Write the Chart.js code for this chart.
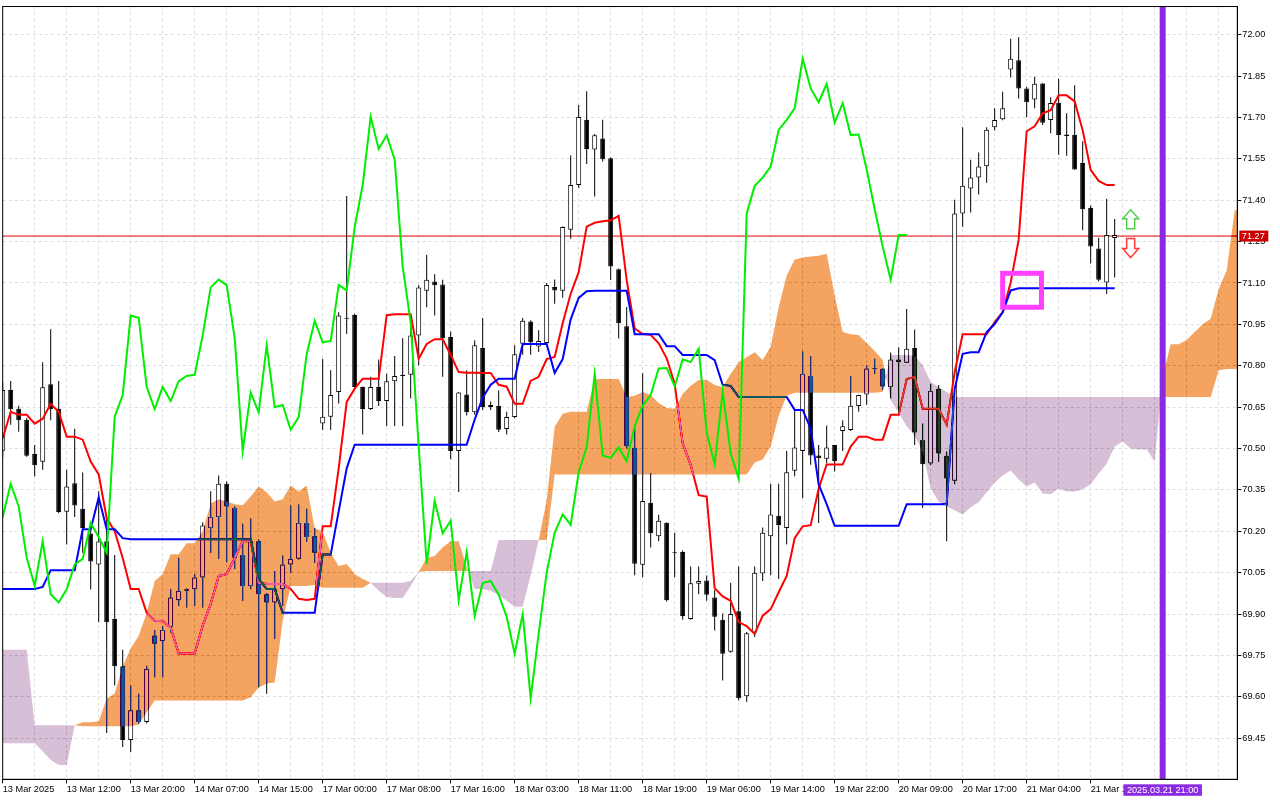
<!DOCTYPE html>
<html>
<head>
<meta charset="utf-8">
<title>Ichimoku H1</title>
<script src="https://cdn.jsdelivr.net/npm/chart.js@4.4.1/dist/chart.umd.min.js"></script>
<style>
  html, body { margin: 0; padding: 0; background: #ffffff; }
  #wrap { width: 1280px; height: 800px; position: relative; }
</style>
</head>
<body>
<div id="wrap"><canvas id="ichimoku-chart"></canvas></div>
<script>
// H1 candles, one value per bar (bar 0 = 13 Mar 2025 04:00)
const opens = [
  70.492, 70.712, 70.644, 70.604, 70.480, 70.452, 70.733, 70.644, 70.271, 70.374,
  70.282, 70.192, 70.080, 70.164, 69.882, 69.711, 69.443, 69.551, 69.509, 69.822,
  69.801, 69.852, 69.950, 69.984, 69.990, 70.032, 70.212, 70.252, 70.372, 70.284,
  70.114, 70.002, 70.164, 69.972, 69.942, 69.990, 70.080, 70.100, 70.230, 70.182,
  70.591, 70.615, 70.705, 70.970, 70.984, 70.723, 70.643, 70.723, 70.672, 70.744,
  70.763, 70.767, 70.910, 71.072, 71.105, 71.094, 70.904, 70.491, 70.696, 70.631,
  70.864, 70.650, 70.654, 70.571, 70.614, 70.880, 70.960, 70.870, 70.882, 71.085,
  71.072, 71.293, 71.455, 71.692, 71.584, 71.624, 71.552, 71.150, 70.943, 70.503,
  70.079, 70.303, 70.182, 70.231, 70.120, 70.125, 69.882, 70.010, 70.022, 69.960,
  69.879, 69.763, 69.910, 69.602, 69.833, 70.047, 70.182, 70.256, 70.212, 70.419,
  70.491, 70.763, 70.475, 70.463, 70.513, 70.563, 70.567, 70.654, 70.696, 70.789,
  70.789, 70.723, 70.823, 70.811, 70.864, 70.531, 70.446, 70.717, 70.474, 70.383,
  71.352, 71.442, 71.482, 71.523, 71.664, 71.693, 71.874, 71.907, 71.805, 71.765,
  71.823, 71.691, 71.753, 71.633, 71.637, 71.535, 71.373, 71.225, 71.102, 71.263
];
const highs = [
  70.740, 70.745, 70.655, 70.610, 70.513, 70.813, 70.932, 70.745, 70.423, 70.572,
  70.413, 70.233, 70.345, 70.254, 70.114, 69.771, 69.641, 69.611, 69.713, 69.842,
  69.857, 69.990, 70.104, 69.993, 70.044, 70.233, 70.345, 70.402, 70.380, 70.290,
  70.227, 70.246, 70.170, 69.975, 70.056, 70.112, 70.293, 70.297, 70.282, 70.212,
  70.825, 70.784, 70.994, 71.415, 70.988, 70.725, 70.760, 70.823, 70.771, 70.835,
  70.900, 70.940, 71.092, 71.202, 71.132, 71.112, 70.924, 70.705, 70.784, 70.892,
  70.973, 70.670, 70.710, 70.633, 70.874, 70.973, 70.965, 70.929, 71.100, 71.113,
  71.305, 71.562, 71.745, 71.795, 71.640, 71.692, 71.555, 71.152, 71.013, 70.573,
  70.773, 70.411, 70.260, 70.233, 70.195, 70.130, 70.072, 70.072, 70.040, 69.987,
  69.902, 70.013, 70.072, 69.835, 70.072, 70.214, 70.372, 70.372, 70.491, 70.639,
  70.852, 70.835, 70.513, 70.583, 70.513, 70.602, 70.763, 70.695, 70.801, 70.825,
  70.790, 70.848, 70.867, 71.006, 70.931, 70.591, 70.735, 70.730, 70.489, 71.402,
  71.664, 71.547, 71.573, 71.664, 71.733, 71.793, 71.985, 71.991, 71.810, 71.847,
  71.825, 71.773, 71.840, 71.715, 71.817, 71.614, 71.381, 71.264, 71.405, 71.332
];
const lows = [
  70.470, 70.586, 70.561, 70.470, 70.399, 70.423, 70.602, 70.265, 70.152, 70.252,
  70.122, 69.989, 69.870, 69.469, 69.641, 69.418, 69.400, 69.503, 69.503, 69.671,
  69.671, 69.833, 69.930, 69.924, 69.930, 69.924, 70.122, 70.100, 70.088, 70.063,
  69.948, 69.990, 69.635, 69.611, 69.810, 69.930, 70.050, 70.098, 70.162, 70.086,
  70.567, 70.567, 70.663, 70.915, 70.720, 70.551, 70.640, 70.654, 70.582, 70.582,
  70.581, 70.681, 70.802, 71.012, 70.982, 70.760, 70.461, 70.342, 70.620, 70.622,
  70.640, 70.640, 70.560, 70.551, 70.610, 70.840, 70.840, 70.850, 70.870, 71.025,
  71.046, 71.260, 71.445, 71.531, 71.413, 71.540, 71.111, 70.899, 70.500, 70.041,
  70.033, 70.141, 70.164, 69.945, 70.033, 69.879, 69.879, 69.972, 69.948, 69.840,
  69.659, 69.760, 69.587, 69.582, 69.817, 70.020, 70.041, 70.027, 70.152, 70.399,
  70.320, 70.441, 70.230, 70.447, 70.417, 70.491, 70.563, 70.633, 70.659, 70.771,
  70.712, 70.681, 70.620, 70.811, 70.513, 70.284, 70.440, 70.452, 70.164, 70.370,
  71.304, 71.355, 71.421, 71.463, 71.653, 71.690, 71.845, 71.769, 71.701, 71.733,
  71.673, 71.643, 71.565, 71.561, 71.510, 71.291, 71.171, 71.105, 71.060, 71.120
];
const closes = [
  70.712, 70.642, 70.602, 70.474, 70.439, 70.722, 70.642, 70.270, 70.362, 70.293,
  70.212, 70.090, 70.163, 69.870, 69.711, 69.443, 69.551, 69.509, 69.702, 69.792,
  69.842, 69.960, 69.984, 69.990, 70.032, 70.221, 70.252, 70.372, 70.290, 70.104,
  70.002, 70.164, 69.972, 69.942, 69.990, 70.080, 70.100, 70.230, 70.179, 70.122,
  70.615, 70.694, 70.982, 70.974, 70.723, 70.643, 70.723, 70.672, 70.744, 70.763,
  70.767, 70.910, 71.084, 71.112, 71.092, 70.900, 70.491, 70.703, 70.631, 70.874,
  70.650, 70.658, 70.568, 70.614, 70.842, 70.963, 70.885, 70.890, 71.093, 71.073,
  71.303, 71.455, 71.702, 71.586, 71.635, 71.548, 71.160, 70.955, 70.508, 70.082,
  70.310, 70.193, 70.238, 69.950, 70.124, 69.893, 70.012, 70.020, 69.970, 69.890,
  69.756, 69.900, 69.595, 69.830, 70.050, 70.195, 70.261, 70.223, 70.414, 70.504,
  70.770, 70.475, 70.466, 70.504, 70.454, 70.581, 70.655, 70.694, 70.790, 70.792,
  70.725, 70.823, 70.813, 70.862, 70.558, 70.443, 70.708, 70.482, 70.391, 71.352,
  71.452, 71.482, 71.522, 71.655, 71.691, 71.733, 71.913, 71.805, 71.755, 71.822,
  71.681, 71.752, 71.636, 71.638, 71.511, 71.367, 71.232, 71.112, 71.274, 71.274
];

// Ichimoku lines
const tenkan = [
  70.536, 70.633, 70.622, 70.622, 70.590, 70.608, 70.662, 70.633, 70.543, 70.543,
  70.532, 70.453, 70.406, 70.247, 70.200, 70.103, 69.991, 69.991, 69.904, 69.876,
  69.874, 69.851, 69.757, 69.757, 69.757, 69.858, 69.937, 70.038, 70.045, 70.103,
  70.164, 70.164, 70.013, 70.009, 70.009, 70.009, 69.991, 69.955, 69.951, 69.955,
  70.218, 70.218, 70.428, 70.669, 70.717, 70.753, 70.753, 70.753, 70.983, 70.987,
  70.987, 70.987, 70.825, 70.879, 70.896, 70.896, 70.839, 70.777, 70.775, 70.775,
  70.774, 70.774, 70.731, 70.724, 70.662, 70.662, 70.745, 70.760, 70.824, 70.832,
  70.954, 71.061, 71.139, 71.304, 71.318, 71.324, 71.327, 71.343, 71.110, 70.935,
  70.915, 70.912, 70.881, 70.827, 70.734, 70.519, 70.441, 70.331, 70.326, 69.994,
  69.964, 69.948, 69.871, 69.856, 69.828, 69.894, 69.918, 69.979, 70.038, 70.175,
  70.218, 70.222, 70.355, 70.442, 70.442, 70.442, 70.507, 70.543, 70.543, 70.532,
  70.532, 70.622, 70.622, 70.752, 70.759, 70.644, 70.644, 70.644, 70.586, 70.777,
  70.914, 70.914, 70.914, 70.914, 70.958, 70.994, 71.102, 71.257, 71.650, 71.668,
  71.715, 71.726, 71.780, 71.780, 71.758, 71.654, 71.510, 71.470, 71.455, 71.455
];
const kijun = [
  69.991, 69.991, 69.991, 69.991, 69.991, 69.998, 70.059, 70.059, 70.059, 70.059,
  70.207, 70.207, 70.323, 70.207, 70.207, 70.175, 70.171, 70.171, 70.171, 70.171,
  70.171, 70.171, 70.171, 70.171, 70.171, 70.171, 70.171, 70.171, 70.171, 70.171,
  70.171, 70.171, 70.027, 69.991, 69.991, 69.905, 69.905, 69.905, 69.905, 69.905,
  70.116, 70.116, 70.272, 70.428, 70.514, 70.514, 70.514, 70.514, 70.514, 70.514,
  70.514, 70.514, 70.514, 70.514, 70.514, 70.514, 70.514, 70.514, 70.514, 70.605,
  70.684, 70.731, 70.753, 70.753, 70.753, 70.879, 70.879, 70.879, 70.879, 70.774,
  70.824, 70.968, 71.046, 71.070, 71.072, 71.072, 71.072, 71.072, 71.072, 70.914,
  70.914, 70.914, 70.914, 70.871, 70.871, 70.839, 70.839, 70.839, 70.839, 70.820,
  70.731, 70.727, 70.687, 70.687, 70.687, 70.687, 70.687, 70.687, 70.687, 70.640,
  70.640, 70.572, 70.370, 70.298, 70.220, 70.220, 70.220, 70.220, 70.220, 70.220,
  70.220, 70.220, 70.220, 70.298, 70.298, 70.298, 70.298, 70.298, 70.298, 70.716,
  70.843, 70.849, 70.849, 70.922, 70.951, 70.994, 71.073, 71.081, 71.081, 71.081,
  71.081, 71.081, 71.081, 71.081, 71.081, 71.081, 71.081, 71.081, 71.081, 71.081
];
// cloud edges, already shifted 26 bars forward (runs past the last candle)
const senkouA = [
  69.432, 69.432, 69.432, 69.432, 69.432, 69.403, 69.371, 69.353, 69.353, 69.497,
  69.508, 69.508, 69.511, 69.594, 69.612, 69.710, 69.775, 69.821, 69.904, 70.020,
  70.045, 70.117, 70.117, 70.157, 70.157, 70.200, 70.301, 70.316, 70.308, 70.298,
  70.294, 70.326, 70.362, 70.341, 70.308, 70.316, 70.366, 70.344, 70.366, 70.211,
  70.200, 70.121, 70.074, 70.081, 70.045, 70.027, 70.013, 69.984, 69.962, 69.958,
  69.958, 70.002, 70.052, 70.103, 70.110, 70.142, 70.164, 70.164, 70.070, 69.991,
  69.991, 69.984, 69.969, 69.948, 69.926, 69.926, 70.041, 70.168, 70.312, 70.579,
  70.626, 70.633, 70.633, 70.633, 70.752, 70.752, 70.752, 70.752, 70.687, 70.691,
  70.705, 70.694, 70.665, 70.647, 70.644, 70.698, 70.727, 70.748, 70.748, 70.730,
  70.723, 70.770, 70.813, 70.831, 70.849, 70.821, 70.870, 71.012, 71.127, 71.185,
  71.192, 71.196, 71.199, 71.206, 71.055, 70.922, 70.914, 70.911, 70.882, 70.853,
  70.821, 70.676, 70.629, 70.582, 70.546, 70.489, 70.355, 70.308, 70.290, 70.276,
  70.261, 70.287, 70.305, 70.341, 70.377, 70.402, 70.420, 70.388, 70.362, 70.377,
  70.337, 70.334, 70.355, 70.344, 70.344, 70.352, 70.370, 70.409, 70.445, 70.507,
  70.525, 70.500, 70.496, 70.496, 70.453, 70.759, 70.878, 70.878, 70.893, 70.922,
  70.950, 70.970, 71.077, 71.145, 71.362, 71.372
];
const senkouB = [
  69.771, 69.771, 69.771, 69.771, 69.497, 69.497, 69.497, 69.497, 69.497, 69.497,
  69.493, 69.493, 69.493, 69.493, 69.493, 69.493, 69.493, 69.500, 69.544, 69.587,
  69.587, 69.587, 69.587, 69.587, 69.587, 69.587, 69.587, 69.587, 69.587, 69.587,
  69.587, 69.598, 69.634, 69.648, 69.652, 69.876, 70.002, 70.002, 70.002, 70.005,
  69.995, 69.995, 69.995, 69.995, 69.995, 69.995, 70.013, 70.013, 70.013, 70.013,
  70.013, 70.020, 70.052, 70.056, 70.056, 70.056, 70.056, 70.056, 70.056, 70.056,
  70.056, 70.056, 70.168, 70.168, 70.168, 70.168, 70.168, 70.168, 70.168, 70.406,
  70.406, 70.406, 70.406, 70.406, 70.406, 70.406, 70.406, 70.406, 70.406, 70.406,
  70.406, 70.406, 70.406, 70.406, 70.406, 70.406, 70.406, 70.406, 70.406, 70.406,
  70.406, 70.406, 70.406, 70.406, 70.449, 70.460, 70.507, 70.619, 70.691, 70.702,
  70.702, 70.702, 70.702, 70.702, 70.702, 70.702, 70.702, 70.702, 70.702, 70.702,
  70.705, 70.839, 70.839, 70.839, 70.835, 70.803, 70.741, 70.723, 70.705, 70.687,
  70.687, 70.687, 70.687, 70.687, 70.687, 70.687, 70.687, 70.687, 70.687, 70.687,
  70.687, 70.687, 70.687, 70.687, 70.687, 70.687, 70.687, 70.687, 70.687, 70.687,
  70.687, 70.687, 70.687, 70.687, 70.687, 70.687, 70.687, 70.687, 70.687, 70.687,
  70.687, 70.687, 70.784, 70.788, 70.788, 70.788
];
const chikouShift = 26; // lagging span = close plotted 26 bars back

// axis labels
const timeLabels = [
  '13 Mar 2025', '13 Mar 12:00', '13 Mar 20:00', '14 Mar 07:00', '14 Mar 15:00',
  '17 Mar 00:00', '17 Mar 08:00', '17 Mar 16:00', '18 Mar 03:00', '18 Mar 11:00',
  '18 Mar 19:00', '19 Mar 06:00', '19 Mar 14:00', '19 Mar 22:00', '20 Mar 09:00',
  '20 Mar 17:00', '21 Mar 04:00', '21 Mar 12:00'
];
const priceTicks = [69.45, 69.60, 69.75, 69.90, 70.05, 70.20, 70.35, 70.50, 70.65,
  70.80, 70.95, 71.10, 71.25, 71.40, 71.55, 71.70, 71.85, 72.00];

// chart objects
const bidPrice = 71.27;
const vlineBar = 145;
const vlineLabel = '2025.03.21 21:00';
const boxBars = [125, 129.85];
const boxPrices = [71.135, 71.012];
const arrowBar = 141;
const buyArrowPrice = 71.365;
const sellArrowPrice = 71.192;

// colours
const cloudUp = [244, 164, 96];    // sandybrown
const cloudDown = [216, 191, 216]; // thistle
const FONT = { family: 'Liberation Sans', size: 9.2 };

const inverse = c => 'rgb(' + (255 - c[0]) + ',' + (255 - c[1]) + ',' + (255 - c[2]) + ')';
const pts = arr => arr.map((v, i) => ({ x: i, y: v }));

// cloud drawn like MT4: inverted over whatever is below it
function drawCloud(chart) {
  const a = chart.getDatasetMeta(5).data;
  const b = chart.getDatasetMeta(6).data;
  const bull = new Path2D();
  const bear = new Path2D();
  const poly = (p, list) => {
    p.moveTo(list[0][0], list[0][1]);
    for (let k = 1; k < list.length; k++) p.lineTo(list[k][0], list[k][1]);
    p.closePath();
  };
  for (let i = 0; i < a.length - 1; i++) {
    const d0 = senkouA[i] - senkouB[i];
    const d1 = senkouA[i + 1] - senkouB[i + 1];
    const x0 = a[i].x, x1 = a[i + 1].x;
    if (d0 >= 0 && d1 >= 0) {
      poly(bull, [[x0, a[i].y], [x1, a[i + 1].y], [x1, b[i + 1].y], [x0, b[i].y]]);
    } else if (d0 <= 0 && d1 <= 0) {
      poly(bear, [[x0, a[i].y], [x1, a[i + 1].y], [x1, b[i + 1].y], [x0, b[i].y]]);
    } else {
      const t = d0 / (d0 - d1);
      const xc = x0 + t * (x1 - x0);
      const yc = a[i].y + t * (a[i + 1].y - a[i].y);
      poly(d0 > 0 ? bull : bear, [[x0, a[i].y], [xc, yc], [x0, b[i].y]]);
      poly(d1 > 0 ? bull : bear, [[xc, yc], [x1, a[i + 1].y], [x1, b[i + 1].y]]);
    }
  }
  const ctx = chart.ctx;
  const area = chart.chartArea;
  ctx.save();
  ctx.beginPath();
  ctx.rect(area.left, area.top, area.right - area.left, area.bottom - area.top);
  ctx.clip();
  ctx.globalCompositeOperation = 'difference';
  ctx.fillStyle = inverse(cloudUp);
  ctx.fill(bull);
  ctx.fillStyle = inverse(cloudDown);
  ctx.fill(bear);
  ctx.restore();
}

function drawArrow(ctx, x, tipY, up, color) {
  const s = up ? 1 : -1;
  ctx.beginPath();
  ctx.moveTo(x, tipY);
  ctx.lineTo(x + 8, tipY + s * 9);
  ctx.lineTo(x + 4, tipY + s * 9);
  ctx.lineTo(x + 4, tipY + s * 19);
  ctx.lineTo(x - 4, tipY + s * 19);
  ctx.lineTo(x - 4, tipY + s * 9);
  ctx.lineTo(x - 8, tipY + s * 9);
  ctx.closePath();
  ctx.fillStyle = '#ffffff';
  ctx.fill();
  ctx.lineWidth = 1.5;
  ctx.strokeStyle = color;
  ctx.stroke();
}

const mtPlugin = {
  id: 'mtStyle',
  beforeDraw(chart) {
    const ctx = chart.ctx;
    ctx.save();
    ctx.fillStyle = '#ffffff';
    ctx.fillRect(0, 0, chart.width, chart.height);
    ctx.restore();
  },
  beforeDatasetDraw(chart, args) {
    if (chart.data.datasets[args.index].label === 'Chikou Span') drawCloud(chart);
  },
  afterDatasetsDraw(chart) {
    const ctx = chart.ctx;
    const area = chart.chartArea;
    const xs = chart.scales.x, ys = chart.scales.y;
    ctx.save();
    // pink box
    ctx.lineWidth = 5;
    ctx.strokeStyle = '#ff40ff';
    const bx0 = xs.getPixelForValue(boxBars[0]), bx1 = xs.getPixelForValue(boxBars[1]);
    const by0 = ys.getPixelForValue(boxPrices[0]), by1 = ys.getPixelForValue(boxPrices[1]);
    ctx.strokeRect(bx0, by0, bx1 - bx0, by1 - by0);
    // arrows
    const ax = xs.getPixelForValue(arrowBar);
    drawArrow(ctx, ax, ys.getPixelForValue(buyArrowPrice), true, '#4ccf4c');
    drawArrow(ctx, ax, ys.getPixelForValue(sellArrowPrice), false, '#ff3a3a');
    // vertical line
    const vx = xs.getPixelForValue(vlineBar);
    ctx.fillStyle = '#8a2be2';
    ctx.fillRect(vx - 3, area.top, 6, area.bottom - area.top);
    // frame
    ctx.lineWidth = 1;
    ctx.strokeStyle = '#000000';
    ctx.strokeRect(area.left, area.top, area.right - area.left, area.bottom - area.top);
    ctx.restore();
  },
  afterDraw(chart) {
    const ctx = chart.ctx;
    const area = chart.chartArea;
    const xs = chart.scales.x, ys = chart.scales.y;
    ctx.save();
    ctx.font = FONT.size + 'px "' + FONT.family + '"';
    ctx.textBaseline = 'middle';
    // bid price label
    const py = ys.getPixelForValue(bidPrice);
    ctx.fillStyle = '#cc0000';
    ctx.fillRect(area.right + 2, py - 5.5, 29, 11);
    ctx.fillStyle = '#ffffff';
    ctx.textAlign = 'left';
    ctx.fillText(bidPrice.toFixed(2), area.right + 4.5, py + 0.5);
    // vertical line time label
    const vx = xs.getPixelForValue(vlineBar);
    const w = ctx.measureText(vlineLabel).width + 7;
    ctx.fillStyle = '#8a2be2';
    ctx.fillRect(vx - w / 2, area.bottom + 5, w, 11.5);
    ctx.fillStyle = '#ffffff';
    ctx.textAlign = 'center';
    ctx.fillText(vlineLabel, vx, area.bottom + 11);
    ctx.restore();
  }
};

Chart.defaults.font.family = FONT.family;
Chart.defaults.font.size = FONT.size;
Chart.defaults.color = '#000000';

const candleBodies = closes.map((c, i) => ({ x: i, y: [opens[i], c] }));
const candleWicks = closes.map((c, i) => ({ x: i, y: [lows[i], highs[i]] }));
const chikou = closes.slice(chikouShift).map((c, i) => ({ x: i, y: c }));

const canvas = document.getElementById('ichimoku-chart');
const chart = new Chart(canvas, {
  type: 'line',
  data: {
    datasets: [
      {
        label: 'Bid',
        data: [{ x: 0, y: bidPrice }, { x: 154.33, y: bidPrice }],
        borderColor: '#dd0000', borderWidth: 1, pointRadius: 0, order: 20
      },
      {
        type: 'bar', label: 'Wicks', data: candleWicks,
        backgroundColor: '#000000', borderWidth: 0, barThickness: 1,
        grouped: false, inflateAmount: 0, order: 12
      },
      {
        type: 'bar', label: 'Candles', data: candleBodies,
        backgroundColor: ctx => closes[ctx.dataIndex] >= opens[ctx.dataIndex] ? '#ffffff' : '#000000',
        borderColor: '#000000', borderWidth: 1, borderSkipped: false,
        barThickness: 5, grouped: false, inflateAmount: 0, order: 11
      },
      {
        label: 'Tenkan-sen', data: pts(tenkan),
        borderColor: '#ff0000', borderWidth: 2, pointRadius: 0, order: 8
      },
      {
        label: 'Kijun-sen', data: pts(kijun),
        borderColor: '#0000ff', borderWidth: 2, pointRadius: 0, order: 7
      },
      {
        label: 'Senkou Span A', data: pts(senkouA),
        showLine: false, pointRadius: 0, order: 6
      },
      {
        label: 'Senkou Span B', data: pts(senkouB),
        showLine: false, pointRadius: 0, order: 6
      },
      {
        label: 'Chikou Span', data: chikou,
        borderColor: '#00ee00', borderWidth: 2, pointRadius: 0, order: 3
      }
    ]
  },
  options: {
    responsive: true,
    maintainAspectRatio: false,
    animation: false,
    events: [],
    layout: { padding: { left: 2.7, top: 2.7, right: 0, bottom: 0 } },
    plugins: { legend: { display: false }, tooltip: { enabled: false } },
    scales: {
      x: {
        type: 'linear',
        min: 0,
        max: 154.33,
        offset: false,
        afterBuildTicks: scale => {
          const t = [];
          for (let b = 0; b <= 152; b += 4) t.push({ value: b });
          scale.ticks = t;
        },
        afterFit: scale => { scale.height = 20.7; },
        ticks: {
          autoSkip: false,
          maxRotation: 0,
          minRotation: 0,
          align: 'start',
          padding: 1,
          color: '#000000',
          callback: v => (v % 8 === 0 && timeLabels[v / 8]) ? timeLabels[v / 8] : ''
        },
        grid: {
          offset: false,
          color: '#dddddd',
          lineWidth: 1,
          tickLength: 4,
          tickColor: ctx => (ctx.tick && ctx.tick.value % 8 === 0 && timeLabels[ctx.tick.value / 8]) ? '#000000' : 'rgba(0,0,0,0)'
        },
        border: { display: true, color: '#000000', width: 1, dash: [3, 3] }
      },
      y: {
        type: 'linear',
        position: 'right',
        min: 69.301,
        max: 72.102,
        afterBuildTicks: scale => { scale.ticks = priceTicks.map(v => ({ value: v })); },
        afterFit: scale => { scale.width = 42.7; },
        ticks: {
          padding: 1,
          color: '#000000',
          callback: v => v.toFixed(2)
        },
        grid: {
          color: '#dddddd',
          lineWidth: 1,
          tickLength: 4,
          tickColor: '#000000'
        },
        border: { display: true, color: '#000000', width: 1, dash: [3, 3] }
      }
    }
  },
  plugins: [mtPlugin]
});
</script>
</body>
</html>
